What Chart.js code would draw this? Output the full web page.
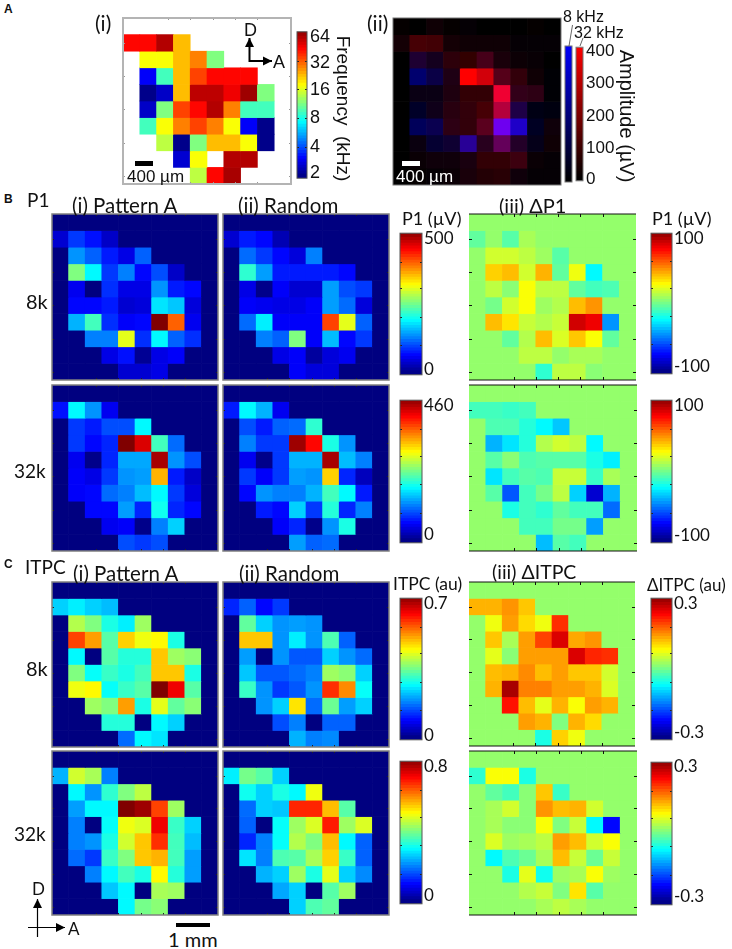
<!DOCTYPE html>
<html>
<head>
<meta charset="utf-8">
<title>Cortical maps</title>
<script src="https://cdn.jsdelivr.net/npm/chart.js@4"></script>
<style>
html, body { margin: 0; padding: 0; background: #fff; }
#page { position: relative; width: 732px; height: 949px; overflow: hidden; }
#page canvas { position: absolute; filter: blur(0.35px); }
.txt { position: absolute; white-space: pre; line-height: 1; color: #111; }
</style>
</head>
<body>
<div id="page"></div>
<script>
"use strict";

var columns = ['1','2','3','4','5','6','7','8','9','10'];
var barLevels = [0,2,4,6,8,10,12,14,16,18,20,22,24,26,28,30,32,34,36,38,40,42,44,46,48,50,52,54,56,58,60,62,64,66,68,70,72,74,76,78,80,82,84,86,88,90,92,94,96,98];

// panel A(i), best frequency as % of the log colour bar, null = no site
var freqMap = [
	[null,null,null,null,null,null,null,null,null,null],
	[87,87,95,69,null,null,null,null,null,null],
	[null,62,62,69,75,50,null,null,null,null],
	[null,12,44,69,81,87,87,87,null,null],
	[null,1,7,69,94,94,89,97,50,null],
	[null,7,50,81,87,95,75,44,44,null],
	[null,44,62,75,81,75,62,12,1,null],
	[null,null,56,1,50,69,69,62,1,null],
	[null,null,null,8,62,null,95,95,null,null],
	[null,null,null,null,56,87,96,null,null,null]
];

// panel A(ii), amplitude in uV
var amp32k = [
	[8,0,24,8,8,0,0,0,8,0],
	[31,110,102,31,24,24,24,8,8,8],
	[0,47,31,71,78,110,39,19,12,0],
	[0,0,16,47,400,329,133,78,24,0],
	[0,16,16,47,78,78,376,78,71,0],
	[0,0,24,63,78,110,282,47,0,0],
	[0,0,16,71,78,141,173,47,0,24],
	[0,16,8,24,63,63,157,55,8,24],
	[0,16,24,24,39,78,78,94,16,8],
	[0,8,8,16,39,55,63,24,8,8]
];
var amp8k = [
	[0,0,8,0,8,0,0,0,0,0],
	[8,8,8,8,8,8,8,8,8,8],
	[0,78,47,16,0,39,16,8,8,0],
	[0,173,110,31,0,16,39,16,8,8],
	[0,31,31,24,8,8,78,39,31,8],
	[0,63,39,24,16,8,94,110,31,24],
	[0,141,125,31,16,47,376,314,55,16],
	[0,24,78,78,235,47,141,63,39,8],
	[0,8,16,16,24,8,8,24,8,8],
	[0,0,8,8,16,8,8,16,8,8]
];

// panels B and C, every cell as % of its colour bar range
var p1_8k_a = [
	[0,0,0,0,0,0,0,0,0,0],
	[8,18,14,7,0,0,0,0,0,0],
	[0,27,22,15,10,22,0,0,0,0],
	[0,50,37,18,25,13,20,7,0,0],
	[0,11,0,17,10,10,27,15,13,0],
	[0,13,13,15,8,9,35,32,9,0],
	[0,30,44,17,12,13,100,78,11,0],
	[0,0,25,25,60,17,37,22,17,0],
	[0,0,0,10,14,2,10,12,0,0],
	[0,0,0,0,8,8,10,0,0,0]
];
var p1_8k_r = [
	[0,0,0,0,0,0,0,0,0,0],
	[8,15,13,5,0,0,0,0,0,0],
	[0,23,18,13,9,25,0,0,0,0],
	[0,42,28,15,15,15,15,13,0,0],
	[0,10,1,12,8,8,28,20,18,0],
	[0,12,11,10,10,12,28,23,9,0],
	[0,23,36,12,12,12,81,60,22,0],
	[0,0,25,22,50,12,31,13,18,0],
	[0,0,0,10,12,3,9,11,0,0],
	[0,0,0,0,12,9,9,0,0,0]
];
var dp1_8k = [
	[52,52,52,52,52,52,52,52,52,52],
	[47,52,46,54,52,52,52,52,52,52],
	[52,58,58,56,53,46,52,52,52,52],
	[52,67,69,58,70,47,61,37,52,52],
	[52,56,51,62,56,56,47,44,45,52],
	[52,49,58,62,53,55,69,73,52,52],
	[52,69,65,57,55,57,92,89,27,52],
	[52,52,47,55,69,59,68,62,47,52],
	[52,52,52,56,56,52,54,54,52,52],
	[52,52,52,52,42,56,56,51,52,52]
];
var p1_32k_a = [
	[0,0,0,0,0,0,0,0,0,0],
	[14,37,27,11,0,0,0,0,0,0],
	[0,18,15,20,20,37,0,0,0,0],
	[0,18,13,16,100,91,44,23,0,0],
	[0,11,1,16,29,29,96,27,20,0],
	[0,12,10,18,27,28,70,15,7,0],
	[0,12,13,23,25,31,37,18,9,0],
	[0,0,13,13,28,16,39,16,13,0],
	[0,0,0,11,12,1,25,33,0,0],
	[0,0,0,0,20,18,20,0,0,0]
];
var p1_32k_r = [
	[0,0,0,0,0,0,0,0,0,0],
	[15,37,30,11,0,0,0,0,0,0],
	[0,20,15,22,23,42,0,0,0,0],
	[0,25,18,18,97,87,40,27,0,0],
	[0,11,1,18,30,30,96,31,25,0],
	[0,18,12,18,28,27,67,16,6,0],
	[0,13,27,25,25,30,44,37,15,0],
	[0,0,15,13,33,18,41,16,25,0],
	[0,0,0,12,16,1,27,40,0,0],
	[0,0,0,0,28,22,23,0,0,0]
];
var dp1_32k = [
	[52,52,52,52,52,52,52,52,52,52],
	[44,44,43,44,52,52,52,52,52,52],
	[52,45,45,41,37,32,52,52,52,52],
	[52,30,35,41,55,58,56,37,52,52],
	[52,46,51,45,46,46,46,40,36,52],
	[52,35,44,46,45,57,57,43,54,52],
	[52,46,21,44,49,56,33,8,30,52],
	[52,52,40,44,42,47,44,44,23,52],
	[52,52,52,44,44,49,49,28,52,52],
	[52,52,52,52,31,46,44,52,52,52]
];
var itpc_8k_a = [
	[0,0,0,0,0,0,0,0,0,0],
	[33,36,33,31,0,0,0,0,0,0],
	[0,55,50,40,36,53,0,0,0,0],
	[0,81,72,46,67,61,63,40,0,0],
	[0,37,0,46,41,41,68,53,51,0],
	[0,50,38,43,40,44,68,68,40,0],
	[0,61,63,38,43,46,100,89,46,0],
	[0,0,53,50,72,40,60,47,51,0],
	[0,0,0,41,41,0,37,33,0,0],
	[0,0,0,0,23,37,35,0,0,0]
];
var itpc_8k_r = [
	[0,0,0,0,0,0,0,0,0,0],
	[16,22,13,18,0,0,0,0,0,0],
	[0,47,33,27,28,27,0,0,0,0],
	[0,68,68,27,36,27,45,22,0,0],
	[0,28,0,27,21,21,33,27,23,0],
	[0,32,21,21,23,25,53,51,33,0],
	[0,43,27,18,21,27,83,74,38,0],
	[0,0,27,33,65,23,48,28,33,0],
	[0,0,0,20,25,0,22,22,0,0],
	[0,0,0,0,30,25,26,0,0,0]
];
var ditpc_8k = [
	[52,52,52,52,52,52,52,52,52,52],
	[70,70,73,68,52,52,52,52,52,52],
	[52,61,72,66,61,83,52,52,52,52],
	[52,68,54,72,81,91,71,73,52,52],
	[52,60,51,72,72,72,91,84,83,52],
	[52,69,70,74,69,72,68,68,58,52],
	[52,70,96,75,75,72,72,70,59,52],
	[52,52,86,69,60,70,62,72,70,52],
	[52,52,52,72,70,50,70,66,52,52],
	[52,52,52,52,40,67,61,52,52,52]
];
var itpc_32k_a = [
	[0,0,0,0,0,0,0,0,0,0],
	[30,58,54,25,0,0,0,0,0,0],
	[0,37,27,42,50,56,0,0,0,0],
	[0,28,37,37,100,97,81,53,0,0],
	[0,25,0,38,61,59,89,43,33,0],
	[0,25,27,40,58,68,83,44,31,0],
	[0,23,18,43,50,68,70,44,28,0],
	[0,0,25,37,44,40,63,41,28,0],
	[0,0,0,32,37,0,54,53,0,0],
	[0,0,0,0,37,49,51,0,0,0]
];
var itpc_32k_r = [
	[0,0,0,0,0,0,0,0,0,0],
	[36,49,46,33,0,0,0,0,0,0],
	[0,39,33,40,37,61,0,0,0,0],
	[0,23,33,32,84,84,69,46,0,0],
	[0,22,0,38,53,59,85,53,59,0],
	[0,16,25,38,55,50,69,37,22,0],
	[0,35,25,45,46,54,67,43,22,0],
	[0,0,30,33,53,40,60,33,26,0],
	[0,0,0,29,33,0,46,53,0,0],
	[0,0,0,0,33,45,47,0,0,0]
];
var ditpc_32k = [
	[52,52,52,52,52,52,52,52,52,52],
	[42,62,62,40,52,52,52,52,52,52],
	[52,47,44,51,68,43,52,52,52,52],
	[52,54,58,51,73,69,70,58,52,52],
	[52,54,51,51,62,50,57,37,13,52],
	[52,59,53,54,56,72,69,58,62,52],
	[52,37,45,48,54,69,57,48,57,52],
	[52,52,40,60,39,53,54,62,53,52],
	[52,52,52,55,57,50,65,46,52,52],
	[52,52,52,52,54,56,54,52,52,52]
];

var page = document.getElementById('page');
var panelTicks = [1.5,3.5,5.5,7.5,9.5];
var barTicks = [21,41,61,80];

function clamp01(v) { return Math.max(0, Math.min(1, v)); }

// matlab jet
function jet(pct) {
	var f = pct / 100;
	var r = clamp01(Math.min(4*f-1.5, -4*f+4.5));
	var g = clamp01(Math.min(4*f-0.5, -4*f+3.5));
	var b = clamp01(Math.min(4*f+0.5, -4*f+2.5));
	return 'rgb(' + Math.round(r*255) + ',' + Math.round(g*255) + ',' + Math.round(b*255) + ')';
}

// outline and the little inward ticks, placed through the chart's own scales
var framePlugin = {
	id: 'frame',
	afterDraw: function(chart, args, opts) {
		var c = chart.ctx, a = chart.chartArea;
		c.save();
		c.strokeStyle = opts.tickColor;
		c.lineWidth = 1;
		(opts.xTicks || []).forEach(function(v) {
			var px = Math.round(chart.scales.v.getPixelForValue(v)) + 0.5;
			c.beginPath(); c.moveTo(px, a.top); c.lineTo(px, a.top + opts.tickLen);
			c.moveTo(px, a.bottom); c.lineTo(px, a.bottom - opts.tickLen); c.stroke();
		});
		(opts.yTicks || []).forEach(function(v) {
			var py = Math.round(chart.scales.y.getPixelForValue(v)) + 0.5;
			c.beginPath(); c.moveTo(a.left, py); c.lineTo(a.left + opts.tickLen, py);
			c.moveTo(a.right, py); c.lineTo(a.right - opts.tickLen, py); c.stroke();
		});
		c.strokeStyle = opts.color;
		c.lineWidth = opts.width;
		if (opts.sidesOnly) {
			c.beginPath(); c.moveTo(a.left, a.top); c.lineTo(a.right, a.top);
			c.moveTo(a.left, a.bottom); c.lineTo(a.right, a.bottom); c.stroke();
		} else {
			c.strokeRect(a.left, a.top, a.right - a.left, a.bottom - a.top);
		}
		c.restore();
	}
};

function addCanvas(x, y, w, h) {
	var cv = document.createElement('canvas');
	cv.width = w; cv.height = h;
	cv.style.left = x + 'px'; cv.style.top = y + 'px';
	cv.style.width = w + 'px'; cv.style.height = h + 'px';
	page.appendChild(cv);
	return cv;
}

// one floating-bar dataset per row, ten columns
function heatmap(x, y, w, h, rows, colourOf, frame) {
	var pad = 2;
	var cv = addCanvas(x - pad, y - pad, w + 2*pad, h + 2*pad);
	var datasets = rows.map(function(row, r) {
		return {
			data: row.map(function(v) { return v === null ? null : [r, r+1]; }),
			backgroundColor: row.map(function(v, c) { return v === null ? 'rgba(0,0,0,0)' : colourOf(r, c); }),
			grouped: false,
			barPercentage: 1,
			categoryPercentage: 1,
			borderWidth: 0
		};
	});
	return new Chart(cv.getContext('2d'), {
		type: 'bar',
		data: { labels: columns, datasets: datasets },
		plugins: [framePlugin],
		options: {
			responsive: false,
			animation: false,
			events: [],
			layout: { padding: pad },
			plugins: { legend: { display: false }, tooltip: { enabled: false }, frame: frame },
			scales: {
				x: { display: false },
				v: { display: false, type: 'linear', axis: 'x', min: 0, max: 10 },
				y: { display: false, min: 0, max: 10, reverse: true }
			}
		}
	});
}

function jetMap(x, y, w, h, rows, frame) {
	return heatmap(x, y, w, h, rows, function(r, c) { return jet(rows[r][c]); }, frame);
}

// vertical colour bar, tick labels come from the y axis
function colourBar(x, y, w, h, colourOf, tickAt, tickText, font, size, gap, axisW, frame) {
	var pad = 12;
	var cv = addCanvas(x - 1, y - pad, w + axisW + 2, h + 2*pad);
	var datasets = barLevels.map(function(lv) {
		return {
			data: [[lv, lv + 3]],
			backgroundColor: colourOf(lv + 1),
			grouped: false,
			barPercentage: 1,
			categoryPercentage: 1,
			borderWidth: 0
		};
	});
	return new Chart(cv.getContext('2d'), {
		type: 'bar',
		data: { labels: ['level'], datasets: datasets },
		plugins: [framePlugin],
		options: {
			responsive: false,
			animation: false,
			events: [],
			layout: { padding: { left: 1, right: 1, top: pad, bottom: pad } },
			plugins: { legend: { display: false }, tooltip: { enabled: false }, frame: frame },
			scales: {
				x: { display: false },
				y: {
					position: 'right',
					min: 0,
					max: 100,
					afterFit: function(s) { s.width = axisW; },
					afterBuildTicks: function(s) { s.ticks = tickAt.map(function(v) { return { value: v }; }); },
					grid: { display: false, drawTicks: false },
					border: { display: false },
					ticks: {
						autoSkip: false,
						maxRotation: 0,
						padding: gap,
						color: '#111',
						font: { family: font, size: size },
						callback: function(v, i) { return tickText[i]; }
					}
				}
			}
		}
	});
}

function label(text, x, cy, font, size, extra) {
	var d = document.createElement('div');
	d.className = 'txt';
	d.textContent = text;
	d.style.left = x + 'px';
	d.style.top = (cy - size/2) + 'px';
	d.style.fontFamily = font;
	d.style.fontSize = size + 'px';
	for (var k in (extra || {})) d.style[k] = extra[k];
	page.appendChild(d);
}

function upright(text, cx, cy, font, size, extra) {
	label(text, cx, cy, font, size, Object.assign({ transform: 'translate(-50%,0) rotate(90deg)' }, extra || {}));
}

function rectBar(x, y, w, h, colour) {
	var d = document.createElement('div');
	d.style.cssText = 'position:absolute;left:' + x + 'px;top:' + y + 'px;width:' + w + 'px;height:' + h + 'px;background:' + colour;
	page.appendChild(d);
}

// arrows and connector lines
function overlay(markup) {
	var d = document.createElement('div');
	d.style.cssText = 'position:absolute;left:0;top:0;width:732px;height:949px;pointer-events:none';
	d.innerHTML = '<svg width="732" height="949" style="position:absolute;left:0;top:0">' + markup + '</svg>';
	page.appendChild(d);
}

var ARIAL = '"Liberation Sans"', LATO = 'Lato';
var darkFrame = { color: '#808080', width: 1.5, tickColor: '#222', tickLen: 2, xTicks: panelTicks, yTicks: panelTicks };
var greenFrame = { color: '#111', width: 1, tickColor: '#111', tickLen: 3, sidesOnly: true, xTicks: panelTicks, yTicks: panelTicks };
var whiteFrame = { color: '#b4b4b4', width: 2, tickColor: '#999', tickLen: 2, xTicks: panelTicks, yTicks: panelTicks };
var blackFrame = { color: '#777', width: 1, tickColor: '#777', tickLen: 0 };
var jetBarFrame = { color: '#555', width: 1, tickColor: '#222', tickLen: 2, yTicks: barTicks };
var plainBarFrame = { color: '#777', width: 1, tickColor: '#777', tickLen: 0 };

// panel A
heatmap(123, 18, 168, 166, freqMap, function(r, c) { return jet(freqMap[r][c]); }, whiteFrame);
heatmap(393, 18, 168, 167, amp32k, function(r, c) {
	return 'rgb(' + Math.round(amp32k[r][c]/400*255) + ',0,' + Math.round(amp8k[r][c]/400*255) + ')';
}, blackFrame);
colourBar(297, 30, 10, 150, jet, [96.7,78.9,60.5,41,21,3.3], ['64','32','16','8','4','2'], ARIAL, 18, 3, 28, jetBarFrame);
colourBar(565, 46, 7, 136, function(lv) { return 'rgb(0,0,' + Math.round(lv*2.55) + ')'; }, [], [], ARIAL, 17, 0, 2, plainBarFrame);
colourBar(576, 46, 7, 136, function(lv) { return 'rgb(' + Math.round(lv*2.55) + ',0,0)'; }, [97,73,48.5,24,1], ['400','300','200','100','0'], ARIAL, 17, 3, 36, plainBarFrame);

// panel B
jetMap(52, 214, 166, 166, p1_8k_a, darkFrame);
jetMap(223, 214, 166, 166, p1_8k_r, darkFrame);
jetMap(469, 214, 167, 166, dp1_8k, greenFrame);
jetMap(52, 385, 166, 166, p1_32k_a, darkFrame);
jetMap(223, 385, 166, 166, p1_32k_r, darkFrame);
jetMap(469, 385, 168, 166, dp1_32k, greenFrame);
colourBar(400, 233, 22, 142, jet, [96.5,4], ['500','0'], LATO, 17, 2, 36, jetBarFrame);
colourBar(651, 233, 21, 141, jet, [96.5,5], ['100','-100'], LATO, 17, 2, 40, jetBarFrame);
colourBar(400, 400, 22, 143, jet, [96.5,5.5], ['460','0'], LATO, 17, 2, 36, jetBarFrame);
colourBar(651, 400, 21, 143, jet, [96.5,5], ['100','-100'], LATO, 17, 2, 40, jetBarFrame);

// panel C
jetMap(52, 582, 166, 165, itpc_8k_a, darkFrame);
jetMap(223, 582, 166, 165, itpc_8k_r, darkFrame);
jetMap(469, 582, 166, 164, ditpc_8k, greenFrame);
jetMap(52, 751, 166, 164, itpc_32k_a, darkFrame);
jetMap(223, 751, 166, 164, itpc_32k_r, darkFrame);
jetMap(469, 751, 168, 164, ditpc_32k, greenFrame);
colourBar(400, 598, 22, 142, jet, [96.5,3], ['0.7','0'], LATO, 17, 2, 36, jetBarFrame);
colourBar(651, 598, 21, 142, jet, [96.5,5], ['0.3','-0.3'], LATO, 17, 2, 40, jetBarFrame);
colourBar(400, 761, 22, 143, jet, [96.5,6], ['0.8','0'], LATO, 17, 2, 36, jetBarFrame);
colourBar(651, 762, 21, 143, jet, [97,6], ['0.3','-0.3'], LATO, 17, 2, 40, jetBarFrame);

// panel A text
label('A', 4, 9, ARIAL, 12, { fontWeight: 'bold' });
label('(i)', 95, 22, LATO, 21);
label('D', 244, 30, ARIAL, 18);
label('A', 273, 62, ARIAL, 18);
label('400 µm', 127, 176, ARIAL, 17);
upright('Frequency  (kHz)', 343, 108, ARIAL, 19);
label('(ii)', 367, 22, LATO, 21);
label('400 µm', 396, 176, ARIAL, 17, { color: '#fff' });
label('8 kHz', 563, 17, ARIAL, 16);
label('32 kHz', 574, 33, ARIAL, 16);
upright('Amplitude (µV)', 627, 116, ARIAL, 20);
rectBar(135, 161, 18, 5, '#000');
rectBar(402, 161, 18, 5, '#fff');

// panel B text
label('B', 4, 199, ARIAL, 12, { fontWeight: 'bold' });
label('P1', 27, 199, LATO, 19);
label('(i) Pattern A', 72, 205, LATO, 20.5);
label('(ii) Random', 238, 205, LATO, 20.5);
label('(iii) ΔP1', 499, 205, LATO, 20);
label('P1 (µV)', 402, 218, LATO, 18);
label('P1 (µV)', 652, 218, LATO, 18);
label('8k', 26, 301, LATO, 20);
label('32k', 14, 470, LATO, 19);

// panel C text
label('C', 4, 564, ARIAL, 12, { fontWeight: 'bold' });
label('ITPC', 25, 566, LATO, 19);
label('(i) Pattern A', 73, 573, LATO, 20.5);
label('(ii) Random', 239, 573, LATO, 20.5);
label('(iii) ΔITPC', 492, 572, LATO, 19.5);
label('ITPC (au)', 393, 584, LATO, 17.5);
label('ΔITPC (au)', 647, 584, LATO, 17);
label('8k', 26, 668, LATO, 20);
label('32k', 14, 833, LATO, 19);
label('D', 32, 888, LATO, 17);
label('A', 68, 928, LATO, 17);
label('1 mm', 168, 939, LATO, 20);
rectBar(176, 923, 34, 4, '#000');

overlay(
	'<defs><marker id="tip" markerUnits="userSpaceOnUse" markerWidth="10" markerHeight="10" refX="9" refY="5" orient="auto"><path d="M0,0.5 L9,5 L0,9.5 z" fill="#000"/></marker></defs>' +
	'<path d="M249.5,61 L272,61" stroke="#000" stroke-width="2" fill="none" marker-end="url(#tip)"/>' +
	'<path d="M249.5,62 L249.5,38" stroke="#000" stroke-width="2" fill="none" marker-end="url(#tip)"/>' +
	'<path d="M572.5,25 L569,46 M583,38 L580,46" stroke="#666" stroke-width="1" fill="none"/>' +
	'<path d="M37.5,937 L37.5,899" stroke="#000" stroke-width="1.2" fill="none" marker-end="url(#tip)"/>' +
	'<path d="M28,927.5 L65,927.5" stroke="#000" stroke-width="1.2" fill="none" marker-end="url(#tip)"/>'
);
</script>
</body>
</html>
